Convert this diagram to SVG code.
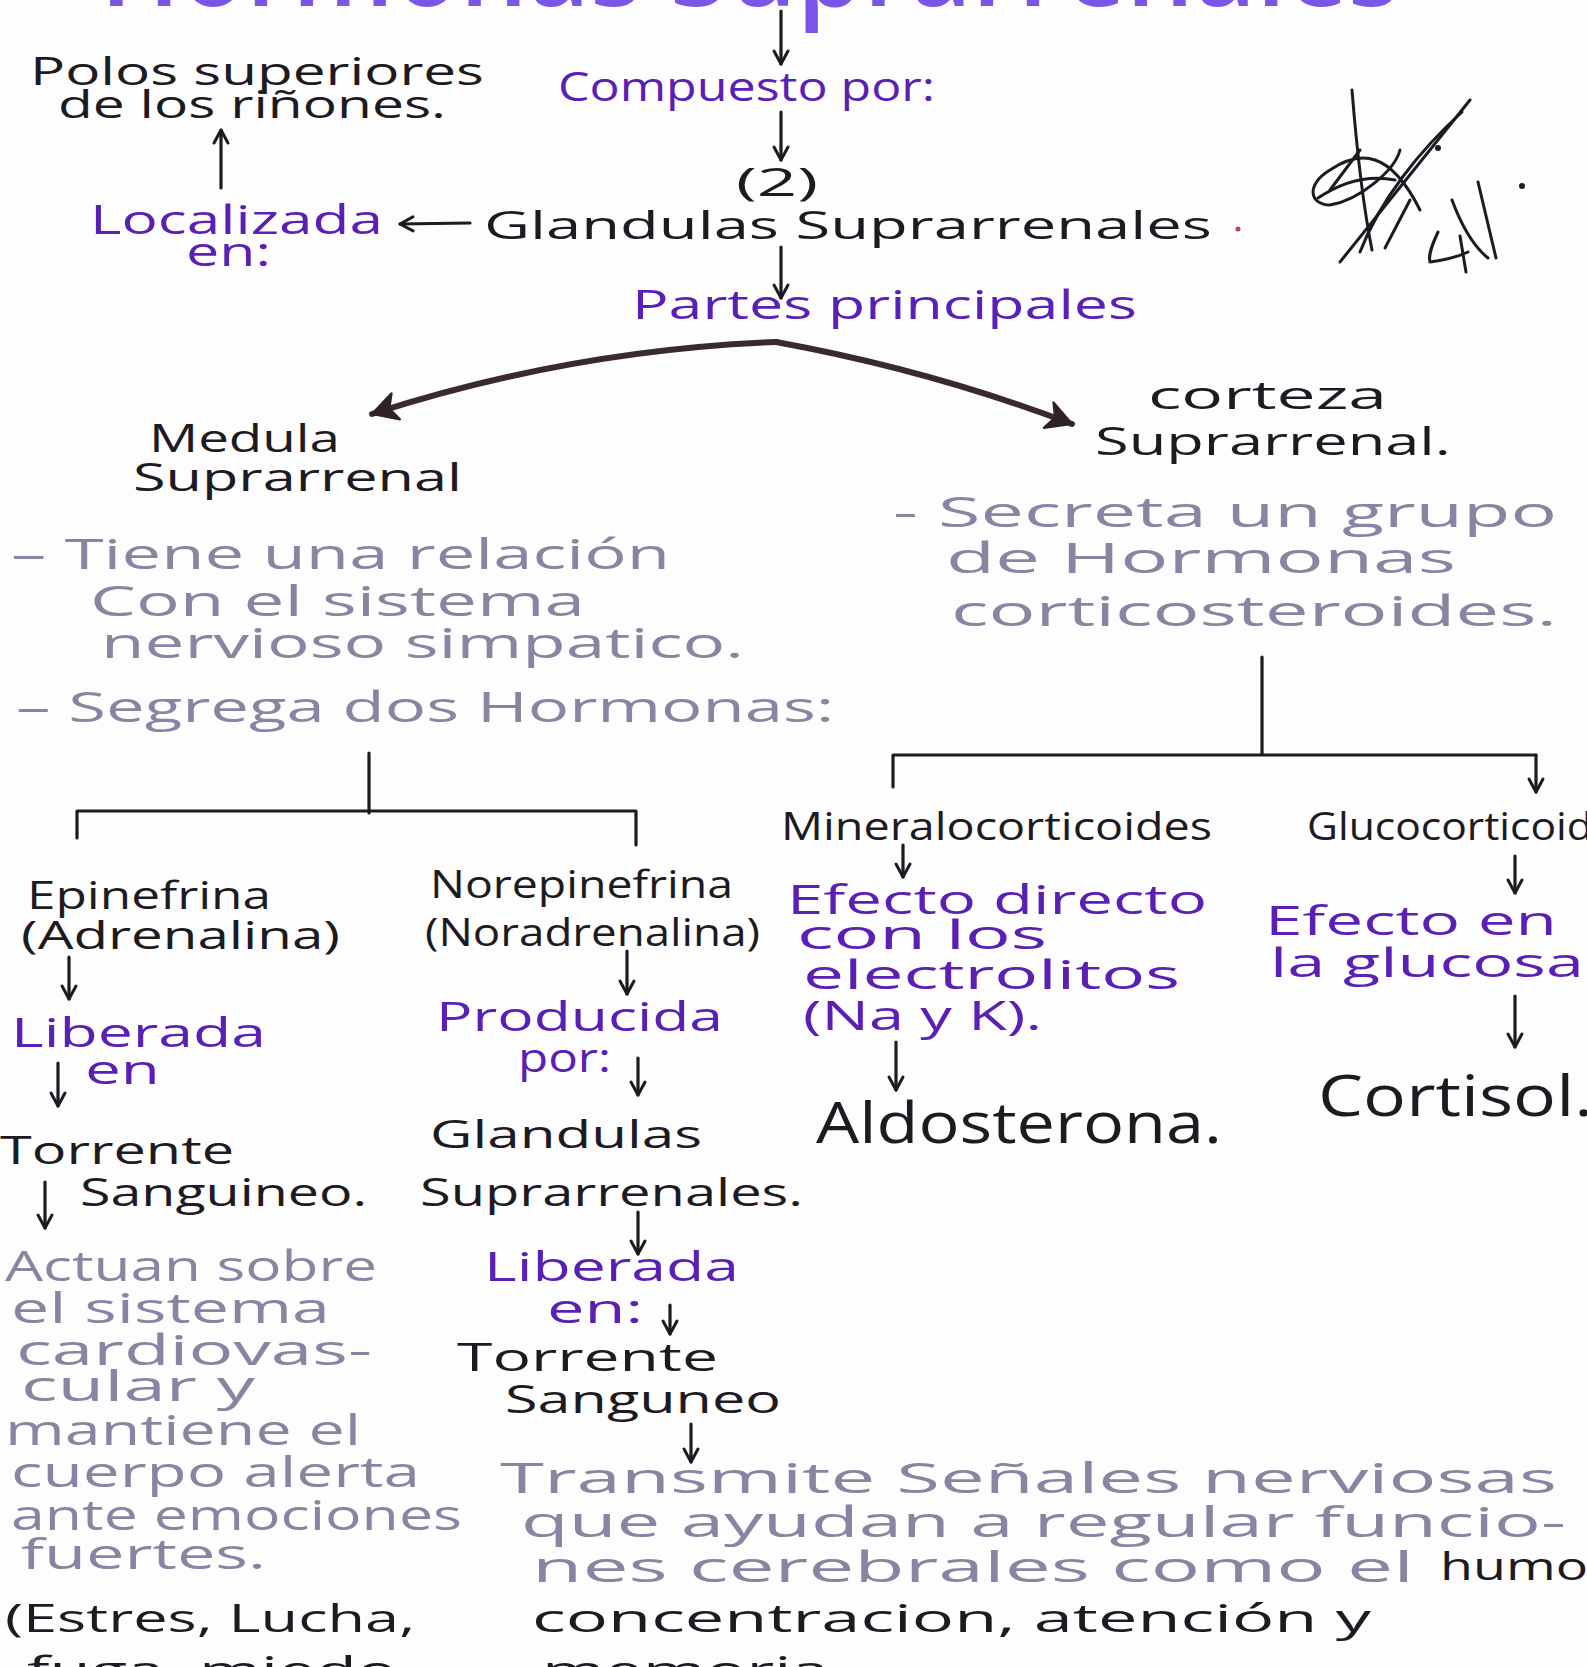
<svg xmlns="http://www.w3.org/2000/svg" width="1587" height="1667" viewBox="0 0 1587 1667">
<defs>
<style>
text{font-family:"Open Sans","Noto Sans","Liberation Sans",sans-serif;}
.ink{fill:#1d1a22;font-size:38px;}
.pur{fill:#5a20b6;font-size:40px;}
.gry{fill:#8a84a2;font-size:42px;}
.ttl{fill:#7a55e6;font-size:110px;font-weight:600;}
.big{fill:#1d1a22;font-size:56px;}
.ln{fill:none;stroke:#1d1a22;stroke-width:3.2;stroke-linecap:round;}
.thk{fill:none;stroke:#3a2a2a;stroke-width:6;stroke-linecap:round;}
.sig{fill:none;stroke:#1d1a22;stroke-width:3;stroke-linecap:round;stroke-linejoin:round;}
</style>
<marker id="ah" viewBox="0 0 20 20" refX="17" refY="10" markerWidth="20" markerHeight="20" markerUnits="userSpaceOnUse" orient="auto">
<path d="M4,3 L17,10 L4,17" fill="none" stroke="#1d1a22" stroke-width="3" stroke-linecap="round" stroke-linejoin="round"/>
</marker>
<marker id="ahb" viewBox="0 0 30 30" refX="26" refY="15" markerWidth="34" markerHeight="34" markerUnits="userSpaceOnUse" orient="auto">
<path d="M4,3 L26,15 L4,27 L10,15 Z" fill="#2e2226" stroke="#2e2226" stroke-width="2" stroke-linejoin="round"/>
</marker>
</defs>
<rect width="1587" height="1667" fill="#fdfdfd"/>

<g id="title"><text class="ttl" x="100" y="6" textLength="1300" lengthAdjust="spacingAndGlyphs">Hormonas Suprarrenales</text></g>

<g id="connectors">
<path class="ln" d="M781,11 L781,64" marker-end="url(#ah)"/>
<path class="ln" d="M781,112 L781,160" marker-end="url(#ah)"/>
<path class="ln" d="M221,188 L221,130" marker-end="url(#ah)"/>
<path class="ln" d="M470,223 L400,224" marker-end="url(#ah)"/>
<path class="ln" d="M781,247 L781,298" marker-end="url(#ah)"/>
<path class="thk" d="M776,342 Q570,350 372,414" marker-end="url(#ahb)"/>
<path class="thk" d="M776,342 Q930,370 1072,424" marker-end="url(#ahb)"/>
<path class="ln" d="M1262,657 V755 M893,755 H1536 M893,755 V787"/>
<path class="ln" d="M1536,755 V792" marker-end="url(#ah)"/>
<path class="ln" d="M369,753 V813 M77,811 H636 M77,811 V838 M636,811 V845"/>
<path class="ln" d="M69,957 V999" marker-end="url(#ah)"/>
<path class="ln" d="M58,1063 V1106" marker-end="url(#ah)"/>
<path class="ln" d="M45,1182 V1228" marker-end="url(#ah)"/>
<path class="ln" d="M627,951 V994" marker-end="url(#ah)"/>
<path class="ln" d="M638,1058 V1095" marker-end="url(#ah)"/>
<path class="ln" d="M638,1212 V1254" marker-end="url(#ah)"/>
<path class="ln" d="M670,1305 V1334" marker-end="url(#ah)"/>
<path class="ln" d="M691,1424 V1462" marker-end="url(#ah)"/>
<path class="ln" d="M903,845 V877" marker-end="url(#ah)"/>
<path class="ln" d="M896,1042 V1090" marker-end="url(#ah)"/>
<path class="ln" d="M1515,856 V893" marker-end="url(#ah)"/>
<path class="ln" d="M1515,996 V1047" marker-end="url(#ah)"/>
</g>

<g id="n-polos">
<text class="ink" x="30" y="85" textLength="454" lengthAdjust="spacingAndGlyphs">Polos superiores</text>
<text class="ink" x="58" y="118" textLength="388" lengthAdjust="spacingAndGlyphs">de los riñones.</text>
</g>
<g id="n-compuesto"><text class="pur" x="558" y="101" textLength="377" lengthAdjust="spacingAndGlyphs">Compuesto por:</text></g>
<g id="n-localizada">
<text class="pur" x="90" y="234" textLength="293" lengthAdjust="spacingAndGlyphs">Localizada</text>
<text class="pur" x="186" y="266" textLength="85" lengthAdjust="spacingAndGlyphs">en:</text>
</g>
<g id="n-glandulas">
<text class="ink" x="736" y="196" font-size="38" textLength="82" lengthAdjust="spacingAndGlyphs">(2)</text>
<text class="ink" x="484" y="239" textLength="728" lengthAdjust="spacingAndGlyphs">Glandulas Suprarrenales</text>
<circle cx="1238" cy="229" r="2.5" fill="#c04050"/>
</g>
<g id="firma">
<path class="sig" d="M1352,90 C1356,140 1362,200 1372,250"/>
<path class="sig" d="M1340,262 L1470,100"/>
<path class="sig" d="M1360,252 C1380,200 1420,150 1462,112"/>
<path class="sig" d="M1385,248 L1410,200"/>
<path class="sig" d="M1420,210 C1390,150 1360,150 1330,170 C1305,185 1310,205 1330,205 C1360,200 1395,170 1400,150"/>
<path class="sig" d="M1318,198 C1345,180 1370,175 1395,180"/>
<path class="sig" d="M1330,190 L1360,150"/>
<circle cx="1438" cy="148" r="3" fill="#1d1a22"/>
<path class="sig" d="M1452,200 C1465,235 1478,250 1488,258 M1478,182 L1496,258"/>
<path class="sig" d="M1438,232 C1432,245 1428,255 1430,262 C1445,260 1455,258 1468,252 M1460,236 L1466,272"/>
<circle cx="1522" cy="186" r="3" fill="#1d1a22"/>
</g>
<g id="n-partes"><text class="pur" x="632" y="319" textLength="505" lengthAdjust="spacingAndGlyphs">Partes principales</text></g>

<g id="n-medula">
<text class="ink" x="149" y="452" textLength="191" lengthAdjust="spacingAndGlyphs">Medula</text>
<text class="ink" x="133" y="491" textLength="329" lengthAdjust="spacingAndGlyphs">Suprarrenal</text>
</g>
<g id="n-medula-desc">
<text class="gry" x="11" y="569" textLength="659" lengthAdjust="spacingAndGlyphs">– Tiene una relación</text>
<text class="gry" x="90" y="616" textLength="495" lengthAdjust="spacingAndGlyphs">Con el sistema</text>
<text class="gry" x="101" y="658" textLength="643" lengthAdjust="spacingAndGlyphs">nervioso simpatico.</text>
<text class="gry" x="16" y="722" textLength="818" lengthAdjust="spacingAndGlyphs">– Segrega dos Hormonas:</text>
</g>
<g id="n-corteza">
<text class="ink" x="1148" y="409" textLength="239" lengthAdjust="spacingAndGlyphs">corteza</text>
<text class="ink" x="1095" y="455" textLength="356" lengthAdjust="spacingAndGlyphs">Suprarrenal.</text>
</g>
<g id="n-corteza-desc">
<text class="gry" x="893" y="527" textLength="664" lengthAdjust="spacingAndGlyphs">- Secreta un grupo</text>
<text class="gry" x="946" y="573" textLength="510" lengthAdjust="spacingAndGlyphs">de Hormonas</text>
<text class="gry" x="951" y="626" textLength="606" lengthAdjust="spacingAndGlyphs">corticosteroides.</text>
</g>

<g id="n-epinefrina">
<text class="ink" x="27" y="909" textLength="244" lengthAdjust="spacingAndGlyphs">Epinefrina</text>
<text class="ink" x="21" y="949" textLength="319" lengthAdjust="spacingAndGlyphs">(Adrenalina)</text>
</g>
<g id="n-liberada1">
<text class="pur" x="11" y="1047" font-size="46" textLength="255" lengthAdjust="spacingAndGlyphs">Liberada</text>
<text class="pur" x="85" y="1084" textLength="75" lengthAdjust="spacingAndGlyphs">en</text>
</g>
<g id="n-torrente1">
<text class="ink" x="0" y="1164" textLength="234" lengthAdjust="spacingAndGlyphs">Torrente</text>
<text class="ink" x="80" y="1206" textLength="287" lengthAdjust="spacingAndGlyphs">Sanguineo.</text>
</g>
<g id="n-actuan">
<text class="gry" x="5" y="1281" textLength="372" lengthAdjust="spacingAndGlyphs">Actuan sobre</text>
<text class="gry" x="11" y="1323" textLength="319" lengthAdjust="spacingAndGlyphs">el sistema</text>
<text class="gry" x="16" y="1365" textLength="356" lengthAdjust="spacingAndGlyphs">cardiovas-</text>
<text class="gry" x="21" y="1401" textLength="234" lengthAdjust="spacingAndGlyphs">cular y</text>
<text class="gry" x="5" y="1445" textLength="356" lengthAdjust="spacingAndGlyphs">mantiene el</text>
<text class="gry" x="11" y="1487" textLength="409" lengthAdjust="spacingAndGlyphs">cuerpo alerta</text>
<text class="gry" x="11" y="1530" textLength="451" lengthAdjust="spacingAndGlyphs">ante emociones</text>
<text class="gry" x="21" y="1569" textLength="245" lengthAdjust="spacingAndGlyphs">fuertes.</text>
<text class="ink" x="5" y="1632" textLength="410" lengthAdjust="spacingAndGlyphs">(Estres, Lucha,</text>
<text class="ink" x="27" y="1684" textLength="370" lengthAdjust="spacingAndGlyphs">fuga, miedo</text>
</g>

<g id="n-norepinefrina">
<text class="ink" x="430" y="898" textLength="303" lengthAdjust="spacingAndGlyphs">Norepinefrina</text>
<text class="ink" x="425" y="946" textLength="335" lengthAdjust="spacingAndGlyphs">(Noradrenalina)</text>
</g>
<g id="n-producida">
<text class="pur" x="436" y="1031" textLength="287" lengthAdjust="spacingAndGlyphs">Producida</text>
<text class="pur" x="518" y="1072" textLength="93" lengthAdjust="spacingAndGlyphs">por:</text>
</g>
<g id="n-glandulas2">
<text class="ink" x="430" y="1148" textLength="272" lengthAdjust="spacingAndGlyphs">Glandulas</text>
<text class="ink" x="420" y="1206" textLength="383" lengthAdjust="spacingAndGlyphs">Suprarrenales.</text>
</g>
<g id="n-liberada2">
<text class="pur" x="484" y="1281" textLength="255" lengthAdjust="spacingAndGlyphs">Liberada</text>
<text class="pur" x="547" y="1323" textLength="96" lengthAdjust="spacingAndGlyphs">en:</text>
</g>
<g id="n-torrente2">
<text class="ink" x="457" y="1371" textLength="261" lengthAdjust="spacingAndGlyphs">Torrente</text>
<text class="ink" x="505" y="1413" textLength="276" lengthAdjust="spacingAndGlyphs">Sanguneo</text>
</g>
<g id="n-transmite">
<text class="gry" x="500" y="1493" textLength="1057" lengthAdjust="spacingAndGlyphs">Transmite Señales nerviosas</text>
<text class="gry" x="521" y="1537" textLength="1045" lengthAdjust="spacingAndGlyphs">que ayudan a regular funcio-</text>
<text class="gry" x="532" y="1582" textLength="882" lengthAdjust="spacingAndGlyphs">nes cerebrales como el</text>
<text class="ink" x="1440" y="1580" font-size="36" textLength="170" lengthAdjust="spacingAndGlyphs">humor</text>
<text class="ink" x="532" y="1632" textLength="839" lengthAdjust="spacingAndGlyphs">concentracion, atención y</text>
<text class="ink" x="542" y="1684" textLength="287" lengthAdjust="spacingAndGlyphs">memoria</text>
</g>

<g id="n-mineralo"><text class="ink" x="781" y="840" font-size="36" textLength="431" lengthAdjust="spacingAndGlyphs">Mineralocorticoides</text></g>
<g id="n-efecto1">
<text class="pur" x="787" y="914" textLength="420" lengthAdjust="spacingAndGlyphs">Efecto directo</text>
<text class="pur" x="797" y="949" textLength="250" lengthAdjust="spacingAndGlyphs">con los</text>
<text class="pur" x="803" y="989" textLength="377" lengthAdjust="spacingAndGlyphs">electrolitos</text>
<text class="pur" x="803" y="1030" textLength="239" lengthAdjust="spacingAndGlyphs">(Na y K).</text>
</g>
<g id="n-aldosterona"><text class="big" x="816" y="1143" textLength="406" lengthAdjust="spacingAndGlyphs">Aldosterona.</text></g>
<g id="n-gluco"><text class="ink" x="1307" y="840" font-size="36" textLength="330" lengthAdjust="spacingAndGlyphs">Glucocorticoides</text></g>
<g id="n-efecto2">
<text class="pur" x="1265" y="935" textLength="292" lengthAdjust="spacingAndGlyphs">Efecto en</text>
<text class="pur" x="1270" y="977" textLength="314" lengthAdjust="spacingAndGlyphs">la glucosa</text>
</g>
<g id="n-cortisol"><text class="big" x="1318" y="1116" textLength="275" lengthAdjust="spacingAndGlyphs">Cortisol.</text></g>
</svg>
